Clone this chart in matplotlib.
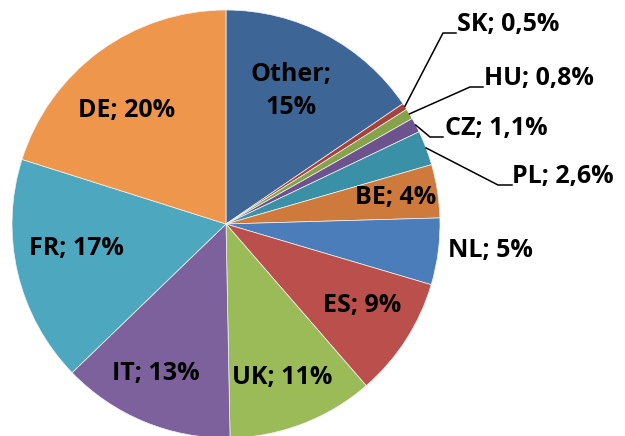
import numpy as np
import matplotlib.pyplot as plt

countries = ['Other', 'SK', 'HU', 'CZ', 'PL', 'BE', 'NL', 'ES', 'UK', 'IT', 'FR', 'DE']
shares = [15.4, 0.5, 0.8, 1.1, 2.6, 4, 5, 9, 11, 13, 17, 20]
share_labels = ['15%', '0,5%', '0,8%', '1,1%', '2,6%', '4%', '5%', '9%', '11%', '13%', '17%', '20%']
colors = ['#3D6696', '#A8403C', '#86A34C', '#6C538E', '#3A90A6', '#CE7A3C',
          '#4A7DBA', '#BA4F4C', '#9BBB59', '#7D619D', '#4CA7BF', '#EE964C']

plt.rcParams['font.family'] = ['Open Sans', 'DejaVu Sans']

W, H = 625, 436
cx, cy, R = 226, 224, 214  # pie centre / radius in pixels

fig = plt.figure(figsize=(W / 100, H / 100), dpi=100)
ax = fig.add_axes([(cx - R) / W, (H - cy - R) / H, 2 * R / W, 2 * R / H])

wedges, _ = ax.pie(shares, colors=colors, startangle=90, counterclock=False, radius=1,
                   wedgeprops=dict(edgecolor='#f4f4f4', linewidth=0.5))
ax.set_aspect('auto')
ax.set_xlim(-1, 1)
ax.set_ylim(-1, 1)
ax.axis('off')


def px(x, y):
    # pixel position -> data coordinates
    return (x - cx) / R, (cy - y) / R


fs = 18
# labels placed inside / beside the big slices (pixel centres)
inside = {
    'Other': (291, 91, 'Other;\n15%'),
    'BE': (396, 197, None),
    'NL': (490, 250, None),
    'ES': (362, 305, None),
    'UK': (282, 377, None),
    'IT': (156, 373, None),
    'FR': (76, 249, None),
    'DE': (127, 110, None),
}
for name, (x, y, txt) in inside.items():
    i = countries.index(name)
    if txt is None:
        txt = f'{name}; {share_labels[i]}'
    tx, ty = px(x, y)
    ax.text(tx, ty, txt, ha='center', va='center', fontsize=fs, fontweight='bold',
            linespacing=1.45, color='black')

# small slices with leader lines: (elbow x, elbow y, line end x, text left x, text y)
leaders = {
    'SK': (443, 33, 456, 457, 25),
    'HU': (470, 87, 483, 484, 78),
    'CZ': (430, 137, 443, 445, 128),
    'PL': (498, 185, 512, 512, 177),
}
for name, (ex, ey, lx, tx, ty) in leaders.items():
    i = countries.index(name)
    w = wedges[i]
    ang = np.deg2rad((w.theta1 + w.theta2) / 2)
    sx, sy = np.cos(ang) * 1.0, np.sin(ang) * 1.0
    x1, y1 = px(ex, ey)
    x2, y2 = px(lx, ey)
    ax.plot([sx, x1, x2], [sy, y1, y2], color='black', linewidth=1.1, clip_on=False)
    x3, y3 = px(tx, ty)
    ax.text(x3, y3, f'{name}; {share_labels[i]}', ha='left', va='center', fontsize=fs,
            fontweight='bold', color='black')

fig.savefig('out.png', dpi=100)
